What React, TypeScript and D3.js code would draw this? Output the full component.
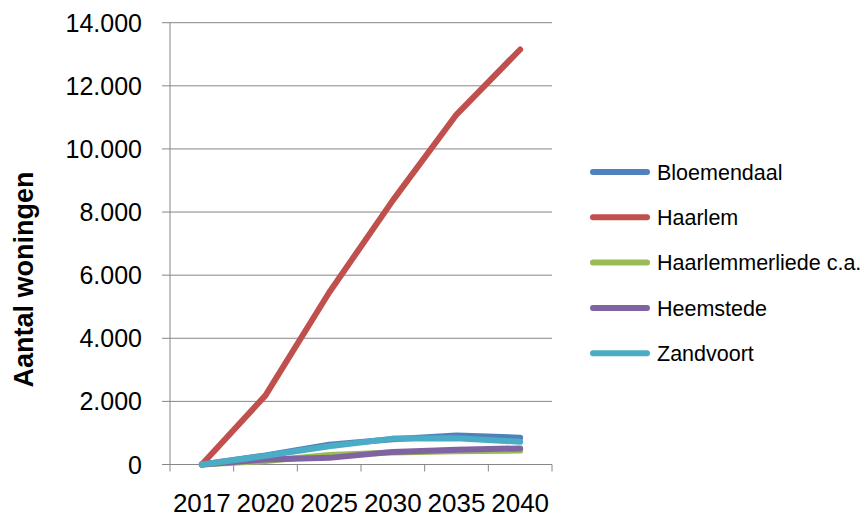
import React from "react";
import * as d3 from "d3";

const years = ["2017", "2020", "2025", "2030", "2035", "2040"];
const seriesNames = ["Bloemendaal", "Haarlem", "Haarlemmerliede c.a.", "Heemstede", "Zandvoort"];
const seriesColors = ["#4F81BD", "#C0504D", "#9BBB59", "#8064A2", "#4BACC6"];
const bloemendaal = [0, 290, 630, 800, 920, 850];
const haarlem = [0, 2190, 5450, 8370, 11090, 13150];
const haarlemmerliede = [0, 110, 300, 380, 420, 440];
const heemstede = [0, 160, 210, 400, 470, 510];
const zandvoort = [0, 275, 580, 820, 830, 720];
const yTicks = [0, 2000, 4000, 6000, 8000, 10000, 12000, 14000];

const allSeries = [bloemendaal, haarlem, haarlemmerliede, heemstede, zandvoort];

const W = 868, H = 516;
const left = 170, right = 552, top = 22.7, bottom = 464.5;

export default function App() {
  const x = d3.scaleBand<string>().domain(years).range([left, right]);
  const y = d3.scaleLinear().domain([0, 14000]).range([bottom, top]);
  const fmt = (v: number) => d3.format(",")(v).replace(/,/g, ".");
  const line = d3
    .line<number>()
    .x((_, i) => (x(years[i]) as number) + x.bandwidth() / 2)
    .y((d) => y(d));
  const font = "Liberation Sans, Arial, sans-serif";
  const drawOrder = [0, 1, 2, 3, 4];
  return (
    <svg width={W} height={H} style={{ position: "absolute", left: 0, top: 0, background: "#fff" }}>
      {yTicks.map((t) => (
        <g key={t}>
          <line x1={left - 8} x2={right} y1={y(t)} y2={y(t)} stroke="#868686" strokeWidth={1} />
          <text x={142} y={y(t)} dy="0.36em" textAnchor="end" fontFamily={font} fontSize={25} fill="#000">
            {fmt(t)}
          </text>
        </g>
      ))}
      <line x1={left} x2={left} y1={top} y2={bottom} stroke="#868686" strokeWidth={1} />
      {[...years.map((yr) => x(yr) as number), right].map((px, i) => (
        <line key={i} x1={px} x2={px} y1={bottom} y2={bottom + 7} stroke="#868686" strokeWidth={1} />
      ))}
      {years.map((yr) => (
        <text
          key={yr}
          x={(x(yr) as number) + x.bandwidth() / 2}
          y={511.5}
          textAnchor="middle"
          fontFamily={font}
          fontSize={26}
          fill="#000"
        >
          {yr}
        </text>
      ))}
      <text
        transform={`translate(33, ${(top + bottom) / 2 + 36}) rotate(-90)`}
        textAnchor="middle"
        fontFamily={font}
        fontWeight="bold"
        fontSize={27}
        fill="#000"
      >
        Aantal woningen
      </text>
      {drawOrder.map((si) => (
        <path
          key={si}
          d={line(allSeries[si]) as string}
          fill="none"
          stroke={seriesColors[si]}
          strokeWidth={6}
          strokeLinejoin="round"
          strokeLinecap="round"
        />
      ))}
      {seriesNames.map((n, i) => (
        <g key={n} transform={`translate(0, ${172 + i * 45.3})`}>
          <line x1={593} x2={647} y1={0} y2={0} stroke={seriesColors[i]} strokeWidth={6} strokeLinecap="round" />
          <text x={657} y={0} dy="0.36em" fontFamily={font} fontSize={21.5} fill="#000">
            {n}
          </text>
        </g>
      ))}
    </svg>
  );
}
